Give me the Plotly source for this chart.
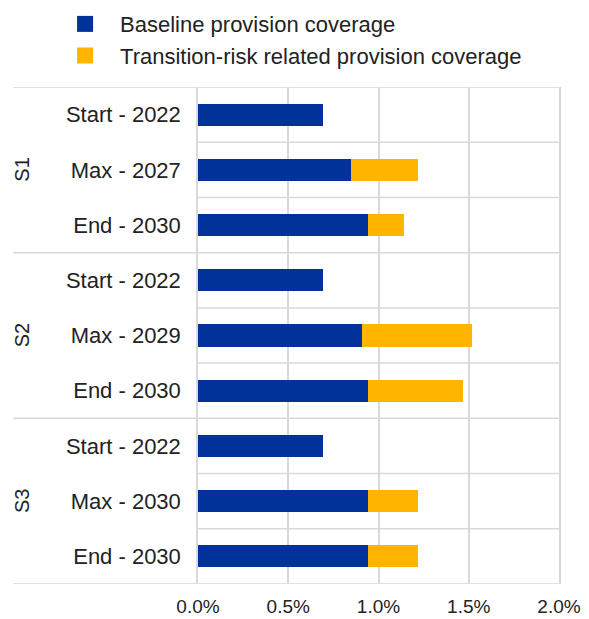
import plotly.graph_objects as go

# Scenario groups and the three horizon points shown for each
groups = ["S1", "S2", "S3"]
horizons = [
    ["Start - 2022", "Max - 2027", "End - 2030"],
    ["Start - 2022", "Max - 2029", "End - 2030"],
    ["Start - 2022", "Max - 2030", "End - 2030"],
]

# Provision coverage, in percent
baseline = [0.69, 0.85, 0.94, 0.69, 0.91, 0.94, 0.69, 0.94, 0.94]
transition = [0.00, 0.37, 0.20, 0.00, 0.61, 0.53, 0.00, 0.28, 0.28]

series_names = ["Baseline provision coverage",
                "Transition-risk related provision coverage"]
x_ticks = [0.0, 0.5, 1.0, 1.5, 2.0]
x_tick_text = ["0.0%", "0.5%", "1.0%", "1.5%", "2.0%"]

labels = [h for grp in horizons for h in grp]
pos = list(range(len(labels)))

BLUE = "#003299"
YELLOW = "#FFB400"
GRID = "#d9d9d9"
TEXT = "#222222"
FONT = "Arial, Liberation Sans, sans-serif"

fig = go.Figure()
for vals, name, color in zip([baseline, transition], series_names, [BLUE, YELLOW]):
    fig.add_trace(go.Bar(
        y=pos, x=vals, orientation="h", name=name, legendgroup=name,
        marker=dict(color=color, line=dict(width=0)), width=0.4,
        showlegend=False,
    ))
    # larger square swatch for the legend entry
    fig.add_trace(go.Scatter(
        x=[None], y=[None], mode="markers", name=name, legendgroup=name,
        marker=dict(symbol="square", size=17, color=color),
        hoverinfo="skip",
    ))

# Row separators inside the plot, group separators reaching into the label area
n = len(labels)
shapes = []
for i in range(n - 1):
    boundary = i + 0.5
    is_group_edge = (i + 1) % 3 == 0
    shapes.append(dict(
        type="line", xref="paper", yref="y",
        x0=-0.512 if is_group_edge else 0, x1=1,
        y0=boundary, y1=boundary,
        line=dict(color=GRID, width=1.5), layer="below",
    ))
for edge in (-0.5, n - 0.5):
    shapes.append(dict(
        type="line", xref="paper", yref="y", x0=-0.512, x1=1,
        y0=edge, y1=edge, line=dict(color=GRID, width=1.5), layer="below",
    ))

annotations = []
for g, name in enumerate(groups):
    annotations.append(dict(
        text=name, xref="paper", yref="y", x=-0.488, y=g * 3 + 1,
        xanchor="center", yanchor="middle",
        showarrow=False, textangle=-90,
        font=dict(family=FONT, size=20, color=TEXT),
    ))

fig.update_layout(
    width=589, height=619,
    margin=dict(l=198, r=30, t=87, b=35, autoexpand=False),
    barmode="stack",
    paper_bgcolor="white", plot_bgcolor="white",
    font=dict(family=FONT, size=22, color=TEXT),
    showlegend=True,
    legend=dict(
        xref="container", yref="container",
        x=0.085, xanchor="left", y=0.995, yanchor="top",
        font=dict(family=FONT, size=22, color=TEXT),
        itemwidth=60, itemsizing="trace", tracegroupgap=2,
        bgcolor="rgba(0,0,0,0)", traceorder="normal",
    ),
    xaxis=dict(
        range=[0, 2.0], tickvals=x_ticks, ticktext=x_tick_text,
        showgrid=True, gridcolor=GRID, gridwidth=1.5, zeroline=False,
        showline=False, ticks="", ticklabelstandoff=9,
        tickfont=dict(size=19, color=TEXT), fixedrange=True,
    ),
    yaxis=dict(
        range=[n - 0.5, -0.5], tickvals=pos, ticktext=labels,
        showgrid=False, zeroline=False, showline=True, mirror=True,
        linecolor=GRID, linewidth=1.5, ticks="", ticklabelstandoff=11,
        tickfont=dict(size=22, color=TEXT), fixedrange=True,
    ),
    shapes=shapes,
    annotations=annotations,
)

fig.write_html("out.html")
